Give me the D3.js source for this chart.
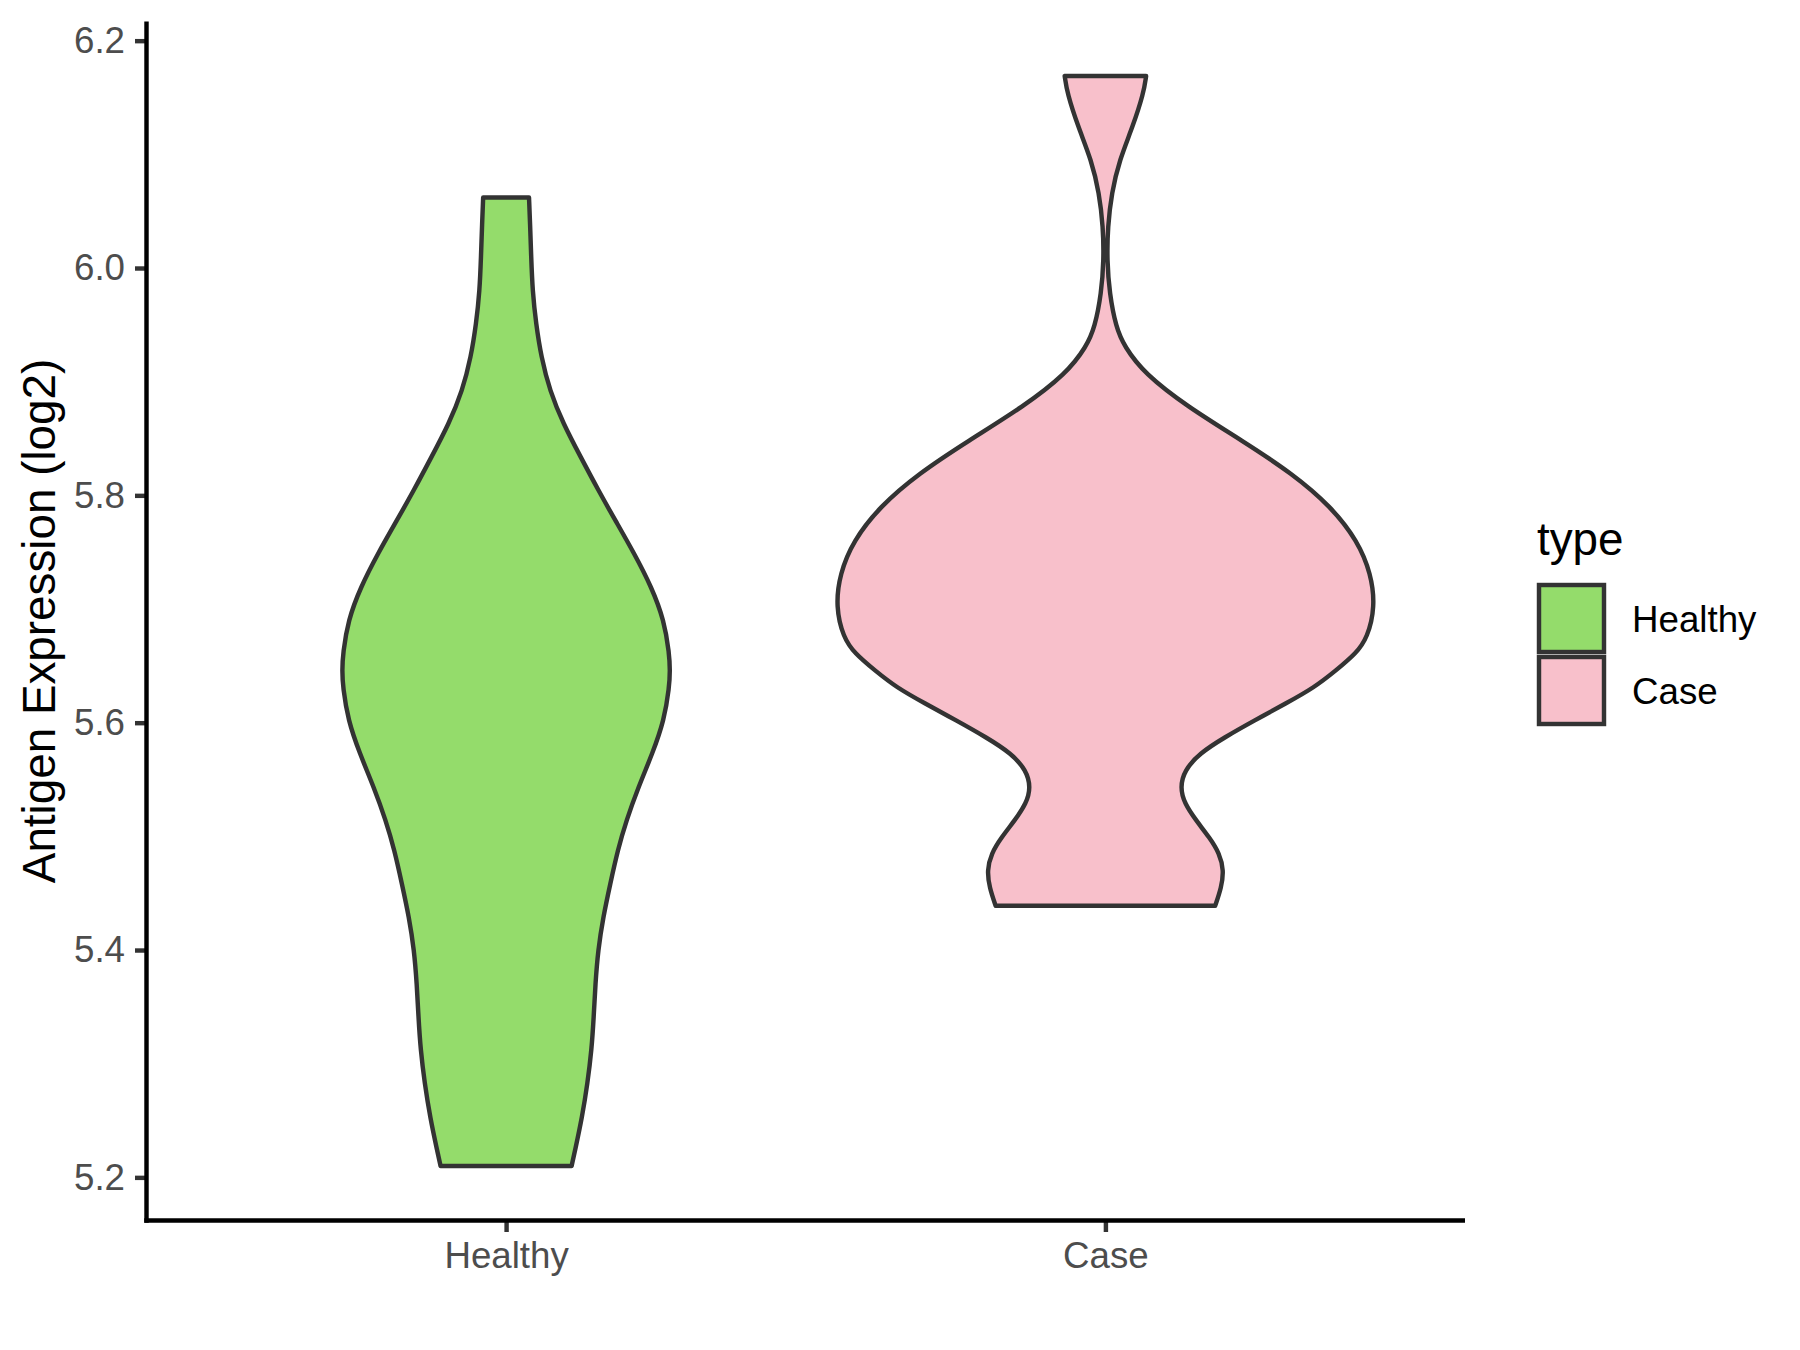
<!DOCTYPE html>
<html>
<head>
<meta charset="utf-8">
<script src="https://cdn.jsdelivr.net/npm/d3@7"></script>
<style>
  html, body { margin: 0; padding: 0; background: #ffffff; }
  svg { display: block; }
  text { font-family: "Liberation Sans", Arial, sans-serif; }
</style>
</head>
<body>
<svg id="chart" width="1800" height="1350"></svg>
<script>
// ---------------- data ----------------
const categories = ["Healthy", "Case"];
const fillColors = ["#94dc6b", "#f8c0cb"];
const yTicks = [5.2, 5.4, 5.6, 5.8, 6.0, 6.2];
const yTickLabels = ["5.2", "5.4", "5.6", "5.8", "6.0", "6.2"];
const yTitle = "Antigen Expression (log2)";
const legendTitle = "type";

// density profile (expression value, relative violin width)
const healthyValues = [6.062, 6.039, 6.010, 5.980, 5.951, 5.922, 5.892, 5.863, 5.834, 5.804,
  5.778, 5.749, 5.719, 5.690, 5.661, 5.646, 5.631, 5.602, 5.573, 5.543, 5.514, 5.488,
  5.458, 5.429, 5.400, 5.370, 5.341, 5.312, 5.283, 5.253, 5.224, 5.210];
const healthyWidths = [0.085, 0.089, 0.093, 0.098, 0.111, 0.130, 0.162, 0.212, 0.276, 0.343,
  0.405, 0.475, 0.540, 0.586, 0.605, 0.608, 0.605, 0.586, 0.543, 0.490, 0.446, 0.414,
  0.386, 0.360, 0.341, 0.331, 0.325, 0.317, 0.302, 0.282, 0.256, 0.243];

const caseValues = [6.169, 6.154, 6.124, 6.095, 6.066, 6.036, 6.007, 5.978, 5.948, 5.931,
  5.907, 5.878, 5.848, 5.819, 5.790, 5.760, 5.731, 5.702, 5.675, 5.661, 5.646, 5.631,
  5.617, 5.602, 5.587, 5.573, 5.558, 5.543, 5.529, 5.514, 5.499, 5.485, 5.470, 5.455, 5.439];
const caseWidths = [0.151, 0.142, 0.101, 0.052, 0.023, 0.0085, 0.006, 0.015, 0.039, 0.070,
  0.145, 0.304, 0.508, 0.694, 0.837, 0.935, 0.985, 1.000, 0.972, 0.930, 0.855, 0.775,
  0.670, 0.553, 0.441, 0.349, 0.293, 0.277, 0.293, 0.336, 0.386, 0.423, 0.439, 0.430, 0.407];

// ---------------- layout ----------------
const panel = { left: 146.5, right: 1465, top: 21.4, bottom: 1220.5 };
const axisColor = "#000000";
const tickColor = "#333333";
const tickTextColor = "#4d4d4d";
const lineW = 4.44;

const svg = d3.select("#chart");

const series = [
  { name: categories[0], values: healthyValues, widths: healthyWidths, fill: fillColors[0] },
  { name: categories[1], values: caseValues, widths: caseWidths, fill: fillColors[1] }
];

// y scale with 5% expansion of data range
const allVals = healthyValues.concat(caseValues);
const vmin = d3.min(allVals), vmax = d3.max(allVals);
const pad = (vmax - vmin) * 0.05;
const y = d3.scaleLinear().domain([vmin - pad, vmax + pad]).range([panel.bottom, panel.top]);

// discrete x positions (ggplot-like expansion of 0.6)
const xPos = d3.scaleLinear().domain([0.4, categories.length + 0.6]).range([panel.left, panel.right]);
const unit = xPos(1) - xPos(0);
const maxWidth = d3.max(series, s => d3.max(s.widths));
const wScale = d3.scaleLinear().domain([0, maxWidth]).range([0, 0.45 * unit]);

// violins
series.forEach((s, i) => {
  const cx = xPos(i + 1);
  const pts = s.values.map((v, k) => ({ v: v, w: s.widths[k] }));
  const area = d3.area()
    .y(d => y(d.v))
    .x0(d => cx - wScale(d.w))
    .x1(d => cx + wScale(d.w))
    .curve(d3.curveBasis);
  svg.append("path")
    .attr("d", area(pts))
    .attr("fill", s.fill)
    .attr("stroke", tickColor)
    .attr("stroke-width", 4.44)
    .attr("stroke-linejoin", "round");
});

// y axis
const yAxis = d3.axisLeft(y).tickValues(yTicks).tickFormat((d, i) => yTickLabels[i])
  .tickSize(11.5).tickPadding(10);
const gy = svg.append("g").attr("transform", `translate(${panel.left},0)`).call(yAxis);
gy.select(".domain").remove();
gy.selectAll(".tick line").attr("stroke", tickColor).attr("stroke-width", lineW);
gy.selectAll(".tick text").attr("fill", tickTextColor).attr("font-size", 36.7)
  .attr("font-family", "Liberation Sans, Arial, sans-serif");

// x axis
const xAxis = d3.axisBottom(xPos).tickValues(categories.map((c, i) => i + 1))
  .tickFormat((d) => categories[d - 1]).tickSize(11.5).tickPadding(10);
const gx = svg.append("g").attr("transform", `translate(0,${panel.bottom})`).call(xAxis);
gx.select(".domain").remove();
gx.selectAll(".tick line").attr("stroke", tickColor).attr("stroke-width", lineW);
gx.selectAll(".tick text").attr("fill", tickTextColor).attr("font-size", 36.7)
  .attr("font-family", "Liberation Sans, Arial, sans-serif");

// axis lines
svg.append("line").attr("x1", panel.left).attr("x2", panel.left)
  .attr("y1", panel.top).attr("y2", panel.bottom + lineW / 2)
  .attr("stroke", axisColor).attr("stroke-width", lineW);
svg.append("line").attr("x1", panel.left - lineW / 2).attr("x2", panel.right)
  .attr("y1", panel.bottom).attr("y2", panel.bottom)
  .attr("stroke", axisColor).attr("stroke-width", lineW);

// y title
svg.append("text")
  .attr("transform", `translate(55,${(panel.top + panel.bottom) / 2}) rotate(-90)`)
  .attr("text-anchor", "middle")
  .attr("font-size", 45.8)
  .attr("fill", "#000")
  .text(yTitle);

// legend
const lg = svg.append("g").attr("transform", "translate(1536,0)");
lg.append("text").attr("x", 1).attr("y", 555).attr("font-size", 45.8).attr("fill", "#000").text(legendTitle);
series.forEach((s, i) => {
  const top = 583 + i * 72;
  lg.append("rect")
    .attr("x", 3).attr("y", top + 2)
    .attr("width", 65).attr("height", 67)
    .attr("fill", s.fill)
    .attr("stroke", tickColor)
    .attr("stroke-width", 4.44);
  lg.append("text")
    .attr("x", 96).attr("y", top + 36 + 13)
    .attr("font-size", 36.7)
    .attr("fill", "#000")
    .text(s.name);
});
</script>
</body>
</html>
